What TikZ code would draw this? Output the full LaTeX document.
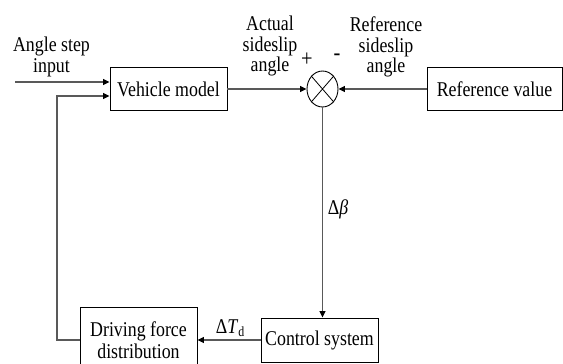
\documentclass[tikz,border=0pt]{standalone}
\usepackage{fontspec}
\setmainfont{Liberation Serif}[FakeStretch=0.85]
\usetikzlibrary{shapes.geometric,arrows.meta}
\begin{document}
\begin{tikzpicture}[x=1pt,y=-1pt,
  block/.style={draw=black, line width=0.9pt, minimum width=117pt, minimum height=43pt,
    inner sep=0pt, font=\fontsize{21}{22}\selectfont, align=center},
  wire/.style={draw=black!65, line width=1.2pt},
  flow/.style={wire, -{Triangle[length=6.5pt,width=6pt,color=black]}},
  lbl/.style={font=\fontsize{21}{20.5}\selectfont, align=center, inner sep=0pt}]
\useasboundingbox (0,0) rectangle (563,364);
\clip (0,0) rectangle (563,364);

% blocks
\node[block] (vm) at (168.5,89) {Vehicle model};
\node[block, minimum width=135pt] (ref) at (494.5,89) {Reference value};
\node[block, minimum height=44pt] (ctrl) at (319.5,340) {Control system};
\node[block, minimum height=66pt] (drv) at (138.5,340) {Driving force\\distribution};

% summing junction
\node[draw=black, line width=0.9pt, ellipse, minimum width=31pt, minimum height=36pt,
  inner sep=0pt] (sum) at (322.5,89) {};
\draw[line width=0.8pt] (sum.north east) -- (sum.south west)
                        (sum.north west) -- (sum.south east);

% connectors
\coordinate (in) at (15,82);
\coordinate (fb) at (57,96);
\draw[flow] (in) -- (in -| vm.west);
\draw[flow] (drv.west) -| (fb) -- (fb -| vm.west);
\draw[flow] (vm.east) -- (sum.west);
\draw[flow] (ref.west) -- (sum.east);
\draw[flow] (sum.south) -- (sum.south |- ctrl.north);
\draw[flow] (ctrl.west) -- (drv.east);

% labels
\node[lbl] (l-in) at (51.5,57) {Angle step\\input};
\node[lbl] (l-act) at (270,46) {Actual\\sideslip\\angle};
\node[lbl] (l-ref) at (386,47) {Reference\\sideslip\\angle};
\node[lbl, font=\fontsize{24}{24}\selectfont] (l-plus) at (307,60) {+};
\node[lbl, font=\fontsize{24}{24}\selectfont] (l-minus) at (337,57) {-};
\node[lbl] (l-db) at (338,209) {Δ\textit{β}};
\node[lbl] (l-dt) at (230,328) {Δ\textit{T}\raisebox{-0.35ex}{\fontsize{14}{14}\selectfont d}};
\end{tikzpicture}
\end{document}
